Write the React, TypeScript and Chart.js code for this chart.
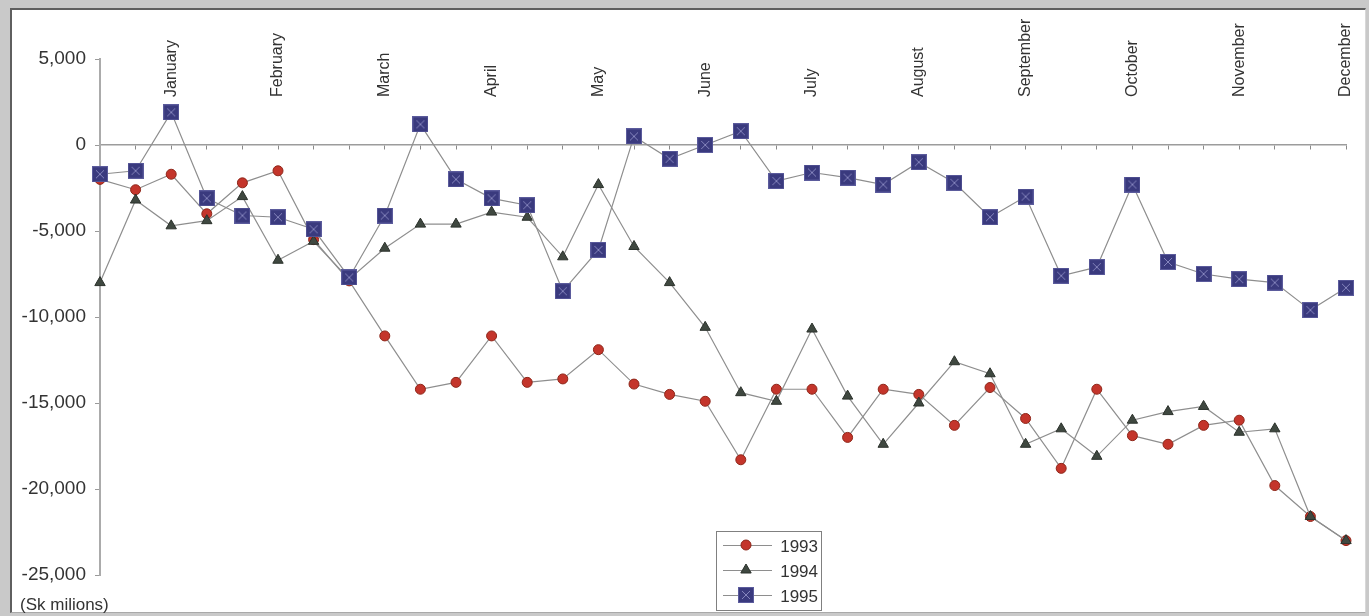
import React, { useEffect, useRef } from 'react';
import { Chart, registerables } from 'chart.js';

Chart.register(...registerables);

// Ten-day periods of each month (three reporting points per month)
const MONTHS = [
  'January', 'February', 'March', 'April', 'May', 'June',
  'July', 'August', 'September', 'October', 'November', 'December',
];
const PERIODS = ['I', 'II', 'III'];

// Cumulative balance, Sk millions
const BALANCE_1993 = [
  -2000, -2600, -1700, -4000, -2200, -1500, -5500, -7900, -11100, -14200, -13800, -11100,
  -13800, -13600, -11900, -13900, -14500, -14900, -18300, -14200, -14200, -17000, -14200, -14500,
  -16300, -14100, -15900, -18800, -14200, -16900, -17400, -16300, -16000, -19800, -21600, -23000,
];
const BALANCE_1994 = [
  -8000, -3200, -4700, -4400, -3000, -6700, -5600, -7800, -6000, -4600, -4600, -3900,
  -4200, -6500, -2300, -5900, -8000, -10600, -14400, -14900, -10700, -14600, -17400, -15000,
  -12600, -13300, -17400, -16500, -18100, -16000, -15500, -15200, -16700, -16500, -21600, -23000,
];
const BALANCE_1995 = [
  -1700, -1500, 1900, -3100, -4100, -4200, -4900, -7700, -4100, 1200, -2000, -3100,
  -3500, -8500, -6100, 500, -800, 0, 800, -2100, -1600, -1900, -2300, -1000,
  -2200, -4200, -3000, -7600, -7100, -2300, -6800, -7500, -7800, -8000, -9600, -8300,
];
const SERIES_NAMES = ['1993', '1994', '1995'];
const Y_MIN = -25000;
const Y_MAX = 5000;
const Y_STEP = 5000;
const UNIT_LABEL = '(Sk milions)';

const LABELS = MONTHS.flatMap((m) => PERIODS.map((p) => `${m} ${p}`));

const FONT = '"Liberation Sans", Arial, Helvetica, sans-serif';
const LINE_GREY = '#8e8e8e';
const RED = '#c4352b';
const RED_EDGE = '#8e2619';
const OLIVE = '#3f4840';
const OLIVE_EDGE = '#2b312b';
const NAVY = '#3a3a7e';

function makeSquareMarker(): HTMLCanvasElement {
  const c = document.createElement('canvas');
  c.width = 16;
  c.height = 16;
  const g = c.getContext('2d')!;
  g.fillStyle = NAVY;
  g.fillRect(0, 0, 16, 16);
  g.strokeStyle = '#5b5b9c';
  g.lineWidth = 1;
  g.strokeRect(0.5, 0.5, 15, 15);
  g.strokeStyle = '#8585bd';
  g.beginPath();
  g.moveTo(4, 4);
  g.lineTo(12, 12);
  g.moveTo(12, 4);
  g.lineTo(4, 12);
  g.stroke();
  return c;
}

function drawMarker(ctx: CanvasRenderingContext2D, kind: string, x: number, y: number, square: HTMLCanvasElement) {
  ctx.save();
  if (kind === 'circle') {
    ctx.fillStyle = RED;
    ctx.strokeStyle = RED_EDGE;
    ctx.lineWidth = 1;
    ctx.beginPath();
    ctx.arc(x, y, 5, 0, Math.PI * 2);
    ctx.fill();
    ctx.stroke();
  } else if (kind === 'triangle') {
    const r = 6;
    ctx.fillStyle = OLIVE;
    ctx.strokeStyle = OLIVE_EDGE;
    ctx.lineWidth = 1;
    ctx.beginPath();
    ctx.moveTo(x, y - r);
    ctx.lineTo(x + r * Math.sin((2 * Math.PI) / 3), y - r * Math.cos((2 * Math.PI) / 3));
    ctx.lineTo(x + r * Math.sin((4 * Math.PI) / 3), y - r * Math.cos((4 * Math.PI) / 3));
    ctx.closePath();
    ctx.fill();
    ctx.stroke();
  } else {
    ctx.drawImage(square, x - square.width / 2, y - square.height / 2);
  }
  ctx.restore();
}

// Keep the plot edges fixed: no extra side padding for label overhang
const noSidePadding = (s: any) => {
  s.paddingLeft = 0;
  s.paddingRight = 0;
};

export default function App() {
  const canvasRef = useRef<HTMLCanvasElement>(null);

  useEffect(() => {
    const canvas = canvasRef.current;
    if (!canvas) return;
    const square = makeSquareMarker();
    const kinds = ['circle', 'triangle', 'square'];

    // Boxed legend sitting low in the plot, below the June/July area
    const boxLegend = {
      id: 'boxLegend',
      afterDraw(chart: Chart) {
        const ctx = chart.ctx;
        const bx = 716;
        const by = 531;
        const bw = 106;
        const bh = 80;
        ctx.save();
        ctx.fillStyle = '#ffffff';
        ctx.fillRect(bx, by, bw, bh);
        ctx.strokeStyle = '#808080';
        ctx.lineWidth = 1;
        ctx.strokeRect(bx + 0.5, by + 0.5, bw - 1, bh - 1);
        SERIES_NAMES.forEach((name, i) => {
          const cy = by + 14 + i * 25;
          ctx.strokeStyle = LINE_GREY;
          ctx.lineWidth = 1;
          ctx.beginPath();
          ctx.moveTo(bx + 7, cy + 0.5);
          ctx.lineTo(bx + 56, cy + 0.5);
          ctx.stroke();
          drawMarker(ctx, kinds[i], bx + 30, cy, square);
          ctx.fillStyle = '#333333';
          ctx.font = `17px ${FONT}`;
          ctx.textAlign = 'right';
          ctx.textBaseline = 'middle';
          ctx.fillText(name, bx + bw - 4, cy + 2);
        });
        ctx.restore();
      },
    };

    const chart = new Chart(canvas, {
      type: 'line',
      data: {
        labels: LABELS,
        datasets: [
          {
            label: SERIES_NAMES[2],
            data: BALANCE_1995,
            order: 0,
            borderColor: LINE_GREY,
            borderWidth: 1.2,
            pointStyle: square as any,
            pointRadius: 8,
            tension: 0,
          },
          {
            label: SERIES_NAMES[1],
            data: BALANCE_1994,
            order: 1,
            borderColor: LINE_GREY,
            borderWidth: 1.2,
            pointStyle: 'triangle',
            pointRadius: 6,
            pointBackgroundColor: OLIVE,
            pointBorderColor: OLIVE_EDGE,
            pointBorderWidth: 1,
            tension: 0,
          },
          {
            label: SERIES_NAMES[0],
            data: BALANCE_1993,
            order: 2,
            borderColor: LINE_GREY,
            borderWidth: 1.2,
            pointStyle: 'circle',
            pointRadius: 5,
            pointBackgroundColor: RED,
            pointBorderColor: RED_EDGE,
            pointBorderWidth: 1,
            tension: 0,
          },
        ],
      },
      options: {
        responsive: false,
        animation: false,
        layout: { padding: { left: 0, right: 23, top: 0, bottom: 41 } },
        plugins: {
          legend: { display: false },
          tooltip: { enabled: false },
        },
        scales: {
          x: {
            type: 'category',
            position: { y: 0 } as any,
            offset: false,
            grid: {
              display: true,
              drawOnChartArea: false,
              drawTicks: true,
              tickLength: 4,
              color: '#8a8a8a',
              lineWidth: 1,
            },
            border: { display: true, color: '#9c9c9c', width: 1.5 },
            ticks: { display: false, autoSkip: false },
            afterFit: noSidePadding,
          },
          months: {
            type: 'category',
            position: 'top',
            offset: false,
            fullSize: false,
            grid: { display: false, drawTicks: false },
            border: { display: false },
            ticks: {
              autoSkip: false,
              minRotation: 90,
              maxRotation: 90,
              mirror: true,
              padding: 38,
              color: '#333333',
              font: { family: FONT, size: 16 },
              callback: (_v: any, idx: number) =>
                idx % PERIODS.length === PERIODS.length - 1 ? MONTHS[Math.floor(idx / PERIODS.length)] : '',
            },
            afterFit: (s: any) => {
              s.height = 59;
              noSidePadding(s);
            },
          },
          y: {
            type: 'linear',
            position: 'left',
            fullSize: false,
            min: Y_MIN,
            max: Y_MAX,
            ticks: {
              stepSize: Y_STEP,
              padding: 9,
              color: '#333333',
              font: { family: FONT, size: 19 },
              callback: (v: any) => Number(v).toLocaleString('en-US'),
            },
            grid: {
              display: true,
              drawOnChartArea: false,
              drawTicks: true,
              tickLength: 5,
              color: '#9a9a9a',
            },
            border: { display: true, color: '#ababab', width: 2 },
            afterFit: (s: any) => {
              s.width = 100;
            },
          },
        },
      },
      plugins: [boxLegend],
    });

    return () => chart.destroy();
  }, []);

  return (
    <div style={{ position: 'fixed', left: 0, top: 0, width: 1369, height: 616, background: '#c9c9c9', overflow: 'hidden' }}>
      <div
        style={{
          position: 'absolute',
          left: 10,
          top: 8,
          width: 1356,
          height: 605,
          boxSizing: 'border-box',
          background: '#ffffff',
          borderLeft: '2px solid #5f5f5f',
          borderTop: '2px solid #5f5f5f',
          borderRight: '1px solid #d8d8d8',
          borderBottom: '1px solid #a9a9a9',
        }}
      />
      <canvas
        ref={canvasRef}
        width={1369}
        height={616}
        style={{ position: 'absolute', left: 0, top: 0, width: 1369, height: 616 }}
      />
      <div
        style={{
          position: 'absolute',
          left: 20,
          top: 596,
          fontFamily: FONT,
          fontSize: 17,
          color: '#333333',
          lineHeight: '18px',
          whiteSpace: 'nowrap',
        }}
      >
        {UNIT_LABEL}
      </div>
    </div>
  );
}
